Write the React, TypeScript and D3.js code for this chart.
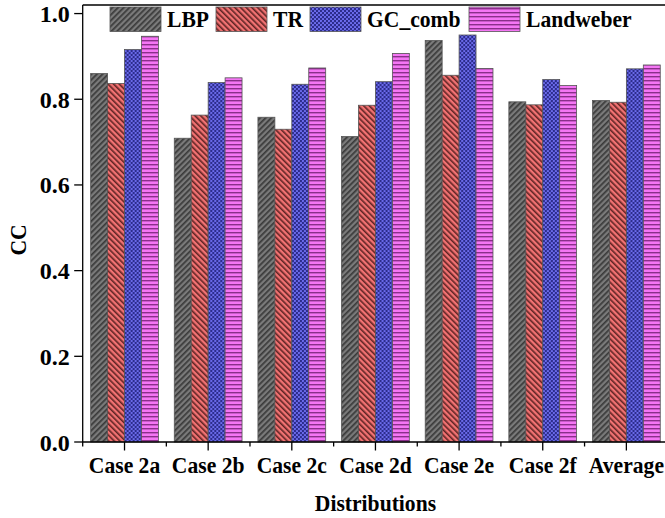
import React from 'react';
import * as d3 from 'd3';

const categories = ['Case 2a', 'Case 2b', 'Case 2c', 'Case 2d', 'Case 2e', 'Case 2f', 'Average'];
const seriesNames = ['LBP', 'TR', 'GC_comb', 'Landweber'];
const lbp = [0.86, 0.709, 0.758, 0.713, 0.937, 0.794, 0.797];
const tr = [0.837, 0.763, 0.73, 0.786, 0.856, 0.787, 0.793];
const gcComb = [0.916, 0.839, 0.835, 0.841, 0.95, 0.846, 0.871];
const landweber = [0.947, 0.85, 0.873, 0.907, 0.872, 0.832, 0.88];
const yTicks = [0, 0.2, 0.4, 0.6, 0.8, 1.0];

const seriesValues = [lbp, tr, gcComb, landweber];
const patternIds = ['pat-lbp', 'pat-tr', 'pat-gc', 'pat-lw'];

const W = 665;
const H = 518;
const FONT = 'Liberation Serif';

// bold serif label, squeezed horizontally around its anchor point
const Label: React.FC<{
  x: number;
  y: number;
  anchor?: string;
  rotate?: number;
  sx?: number;
  size?: number;
  children: React.ReactNode;
}> = ({ x, y, anchor = 'start', rotate = 0, sx = 0.92, size = 23.5, children }) => (
  <text
    transform={`translate(${x},${y}) rotate(${rotate}) scale(${sx},1)`}
    textAnchor={anchor}
    fontFamily={FONT}
    fontWeight="bold"
    fontSize={size}
    fill="#000"
  >
    {children}
  </text>
);

const App: React.FC = () => {
  // plot area runs past the right edge of the picture, like the original
  const left = 82.7;
  const right = 668.2;
  const top = 5;
  const bottom = 442;

  const x = d3.scaleBand<string>().domain(categories).range([left, right]).padding(0);
  const groupW = x.bandwidth() * 0.81;
  const sub = d3.scaleBand<string>().domain(seriesNames).range([0, groupW]).padding(0);
  const y = d3.scaleLinear().domain([0, 1.02]).range([bottom, top]);

  // legend slots: box start x for each series
  const legendX = [110, 216, 310, 469];

  return (
    <svg width={W} height={H} style={{ position: 'absolute', left: 0, top: 0, background: '#fff' }}>
      <defs>
        <pattern id="pat-lbp" width={4} height={4} patternUnits="userSpaceOnUse" patternTransform="rotate(45)">
          <rect width={4} height={4} fill="#7a7a7a" />
          <rect width={1.7} height={4} fill="#3a3a3a" />
        </pattern>
        <pattern id="pat-tr" width={4} height={4} patternUnits="userSpaceOnUse" patternTransform="rotate(-45)">
          <rect width={4} height={4} fill="#f27272" />
          <rect width={1.6} height={4} fill="#5e2424" />
        </pattern>
        <pattern id="pat-gc" width={4} height={4} patternUnits="userSpaceOnUse">
          <rect width={4} height={4} fill="#2c2c8c" />
          <circle cx={1} cy={1} r={1.05} fill="#7272f6" />
          <circle cx={3} cy={3} r={1.05} fill="#7272f6" />
        </pattern>
        <pattern id="pat-lw" width={4} height={4} patternUnits="userSpaceOnUse">
          <rect width={4} height={4} fill="#f476f4" />
          <rect y={0} width={4} height={1.4} fill="#8a2f8a" />
        </pattern>
      </defs>

      {/* bars */}
      <g>
        {categories.map((c, i) => (
          <g key={c} transform={`translate(${(x(c) as number) + (x.bandwidth() - groupW) / 2},0)`}>
            {seriesNames.map((s, j) => (
              <rect
                key={s}
                x={sub(s)}
                y={y(seriesValues[j][i])}
                width={sub.bandwidth()}
                height={bottom - y(seriesValues[j][i])}
                fill={`url(#${patternIds[j]})`}
                stroke="#555"
                strokeWidth={0.8}
              />
            ))}
          </g>
        ))}
      </g>

      {/* frame */}
      <g stroke="#000" strokeWidth={1.3} fill="none">
        <line x1={left} x2={left} y1={top} y2={bottom} />
        <line x1={left} x2={right} y1={bottom} y2={bottom} />
        <line x1={left} x2={right} y1={top} y2={top} />
        <line x1={right} x2={right} y1={top} y2={bottom} />
      </g>

      {/* y axis */}
      {yTicks.map((t) => (
        <g key={t}>
          <line x1={left - 8.5} x2={left} y1={y(t)} y2={y(t)} stroke="#000" strokeWidth={1.3} />
          <Label x={left - 13} y={y(t) + 8.5} anchor="end" sx={1} size={24}>
            {d3.format('.1f')(t)}
          </Label>
        </g>
      ))}

      {/* x axis */}
      {categories.map((c) => {
        const cx = (x(c) as number) + x.bandwidth() / 2;
        return (
          <g key={c}>
            <line x1={x(c)} x2={x(c)} y1={bottom} y2={bottom + 4.5} stroke="#000" strokeWidth={1.3} />
            <line x1={cx} x2={cx} y1={bottom} y2={bottom + 8.5} stroke="#000" strokeWidth={1.3} />
            <Label x={cx} y={bottom + 31} anchor="middle">
              {c}
            </Label>
          </g>
        );
      })}

      {/* axis titles */}
      <Label x={(left + right) / 2} y={511} anchor="middle">
        Distributions
      </Label>
      <Label x={26} y={240} anchor="middle" rotate={-90}>
        CC
      </Label>

      {/* legend */}
      {seriesNames.map((s, j) => (
        <g key={s}>
          <rect
            x={legendX[j]}
            y={7}
            width={51}
            height={24.5}
            fill={`url(#${patternIds[j]})`}
            stroke="#555"
            strokeWidth={0.8}
          />
          <Label x={legendX[j] + 57} y={27}>
            {s}
          </Label>
        </g>
      ))}
    </svg>
  );
};

export default App;
